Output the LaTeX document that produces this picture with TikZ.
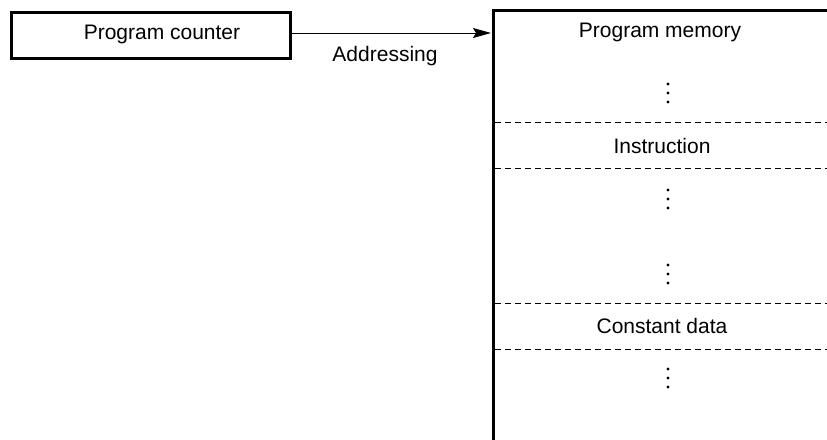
\documentclass[tikz,border=0pt]{standalone}
\usepackage{fontspec}
\setmainfont{Liberation Sans}
\usetikzlibrary{arrows.meta}
\begin{document}
\begin{tikzpicture}[x=1pt,y=-1pt,
  lbl/.style={font=\fontsize{21}{24}\selectfont, inner sep=0pt},
  thickbox/.style={line width=3pt},
  sep/.style={line width=0.8pt, dash pattern=on 6pt off 4pt},
  vd/.style={inner sep=0pt}]
\useasboundingbox (0,0) rectangle (827,439);
\node[draw, thickbox, minimum width=279pt, minimum height=46pt, anchor=north west, inner sep=0pt] (pc) at (10,11) {};
\node[lbl] (pct) at (162,34) {Program counter};
\coordinate (memtl) at (493,10);
\coordinate (memtr) at (830,10);
\coordinate (membl) at (493,442);
\draw[thickbox] (membl) -- (memtl) -- (memtr);
\coordinate (arrend) at (491,33);
\draw[line width=1pt, -{Stealth[length=18pt,width=10pt,inset=3pt]}] (pc.east |- arrend) -- (arrend);
\node[lbl] (addr) at (385,56) {Addressing};
\node[lbl] (pm) at (660,32) {Program memory};
\node[lbl] (ins) at (662,146) {Instruction};
\node[lbl] (cd) at (662,326) {Constant data};
\foreach \n/\y in {a/93, b/199, c/274, d/378}{
  \foreach \k in {-9,0,9}{
    \fill (668,\y+\k) circle (1.6pt);
  }
}
\foreach \y/\n in {122/s1,168/s2,303/s3,349/s4}{
  \coordinate (\n l) at (495,\y);
  \coordinate (\n r) at (827,\y);
  \draw[sep] (\n l) -- (\n r);
}
\end{tikzpicture}
\end{document}
